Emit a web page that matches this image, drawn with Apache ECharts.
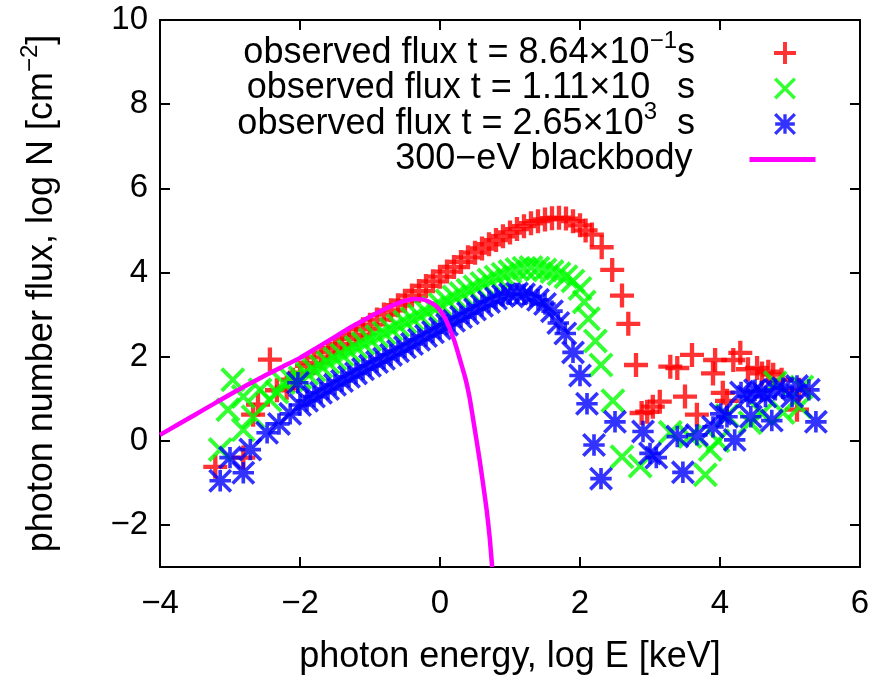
<!DOCTYPE html>
<html><head><meta charset="utf-8">
<script src="https://cdn.jsdelivr.net/npm/echarts@6/dist/echarts.min.js"></script>
<style>html,body{margin:0;padding:0;background:#fff}#c{width:878px;height:686px}</style>
</head><body><div id="c"></div>
<script>
// ---- tick values ----
const xTicks = [-4, -2, 0, 2, 4, 6];
const yTicks = [-2, 0, 2, 4, 6, 8, 10];

// ---- observed flux t = 8.64e-1 s (red plus) ----
const redX = [-3.21,-2.81,-2.67,-2.6,-2.43,-2.33,-2.19,-2.1,
  -2.0,-1.9,-1.8,-1.7,-1.6,-1.5,-1.4,-1.3,-1.2,-1.1,-1.0,-0.9,-0.8,-0.7,-0.6,-0.5,-0.4,-0.3,-0.2,-0.1,
  0.0,0.1,0.2,0.3,0.4,0.5,0.6,0.7,0.8,0.9,1.0,1.1,1.2,1.3,1.4,1.5,1.6,1.7,1.8,1.9,2.0,
  2.08,2.17,2.31,2.46,2.6,2.69,2.8,
  2.88,2.96,3.04,3.14,3.29,3.39,3.5,3.6,3.67,3.9,3.93,4.04,4.1,4.19,4.29,4.4,4.53,4.6,4.69,4.76,4.88,5.1,5.13];
const redY = [-0.62,-0.4,0.62,0.86,1.93,1.2,1.26,1.45,
  1.62,1.78,1.85,1.98,2.1,2.2,2.3,2.42,2.52,2.65,2.76,2.88,3.0,3.1,3.22,3.33,3.45,3.56,3.68,3.79,
  3.9,4.02,4.13,4.25,4.36,4.47,4.57,4.67,4.77,4.86,4.95,5.03,5.1,5.17,5.22,5.26,5.29,5.3,5.28,5.22,5.12,
  5.0,4.9,4.6,4.06,3.45,2.78,1.8,
  0.66,0.69,0.81,0.93,1.76,1.73,1.05,2.04,0.62,1.6,1.92,1.14,0.95,1.92,2.09,1.7,1.73,1.6,1.64,1.57,1.45,0.74,1.21];

// ---- observed flux t = 1.11e1 s (green x) ----
const greenX = [-3.14,-3.03,-2.96,-2.81,-2.81,-2.67,-2.57,-2.43,-2.33,-2.24,-2.12,
  -2.0,-1.9,-1.8,-1.7,-1.6,-1.5,-1.4,-1.3,-1.2,-1.1,-1.0,-0.9,-0.8,-0.7,-0.6,-0.5,-0.4,-0.3,-0.2,-0.1,
  0.0,0.1,0.2,0.3,0.4,0.5,0.6,0.7,0.8,0.9,1.0,1.1,1.2,1.3,1.4,1.5,1.6,1.7,1.8,1.9,
  2.0,2.06,2.12,2.22,2.3,2.47,2.6,2.86,
  3.29,3.57,3.79,3.86,3.97,4.1,4.43,4.6,4.79,4.9,5.14,5.17];
const greenY = [-0.21,0.74,1.45,1.05,0.26,0.57,1.21,0.97,1.16,1.38,1.45,
  1.5,1.6,1.68,1.77,1.86,1.95,2.04,2.13,2.22,2.31,2.4,2.48,2.56,2.65,2.74,2.82,2.9,2.98,3.07,3.16,
  3.24,3.33,3.42,3.5,3.58,3.66,3.74,3.82,3.89,3.96,4.02,4.07,4.1,4.12,4.1,4.06,4.02,3.97,3.9,3.8,
  3.62,3.3,2.9,2.37,1.8,0.95,-0.38,-0.6,
  0.2,0.1,-0.81,-0.21,0.0,0.6,0.43,0.65,1.38,0.67,0.81,1.28];

// ---- observed flux t = 2.65e3 s (blue asterisk) ----
const blueX = [-3.14,-3.0,-2.81,-2.71,-2.47,-2.3,-2.14,-2.03,
  -2.0,-1.9,-1.8,-1.7,-1.6,-1.5,-1.4,-1.3,-1.2,-1.1,-1.0,-0.9,-0.8,-0.7,-0.6,-0.5,-0.4,-0.3,-0.2,-0.1,
  0.0,0.1,0.2,0.3,0.4,0.5,0.6,0.7,0.8,0.9,1.0,1.1,1.2,1.3,1.4,1.5,
  1.6,1.69,1.79,1.9,2.0,2.1,2.2,2.3,
  2.5,2.9,3.0,3.09,3.39,3.47,3.67,3.9,4.01,4.1,4.21,4.3,4.4,4.44,4.5,4.59,4.65,4.74,4.79,4.9,5.03,5.1,5.27,5.37];
const blueY = [-0.95,-0.4,-0.76,-0.21,0.19,0.4,0.64,1.38,
  0.85,0.95,1.05,1.14,1.23,1.33,1.42,1.52,1.6,1.7,1.78,1.87,1.95,2.04,2.13,2.22,2.3,2.4,2.49,2.58,
  2.67,2.76,2.85,2.94,3.03,3.12,3.21,3.3,3.38,3.44,3.48,3.5,3.48,3.43,3.35,3.25,
  3.08,2.8,2.55,2.1,1.55,0.88,-0.1,-0.9,
  0.45,0.22,-0.3,-0.4,0.1,-0.75,0.14,0.33,0.64,0.57,0.02,1.15,1.05,0.57,1.2,1.17,1.05,0.48,1.21,1.25,1.05,1.3,1.21,0.45];

// ---- 300-eV blackbody (magenta line) ----
const bbX = [-4.0,-3.75,-3.5,-3.25,-3.0,-2.75,-2.5,-2.25,-2.0,-1.75,-1.5,-1.25,-1.0,-0.8,-0.6,-0.45,-0.36,-0.25,-0.15,-0.07,
  0.0,0.07,0.14,0.21,0.28,0.36,0.42,0.47,0.52,0.57,0.62,0.67,0.71,0.745];
const bbY = [0.14,0.38,0.62,0.86,1.1,1.33,1.55,1.76,1.97,2.22,2.47,2.72,2.95,3.12,3.27,3.35,3.37,3.36,3.3,3.22,
  3.1,2.92,2.66,2.35,1.96,1.5,1.05,0.55,0.03,-0.5,-1.08,-1.69,-2.3,-3.0];

const legendTexts = {
  obs1: 'observed flux t = 8.64×10{sup|−1}s',
  obs2: 'observed flux t = 1.11×10{sup|    }s',
  obs3: 'observed flux t = 2.65×10{sup|3}  s',
  bb: '300−eV blackbody'
};

const zip = (xs, ys) => xs.map((x, i) => [x, ys[i]]);
const PLUS = 'path://M8.2,0H11.8V8.2H20V11.8H11.8V20H8.2V11.8H0V8.2H8.2Z';
const CROSS = 'path://M1.27,-1.27L21.27,18.73L18.73,21.27L-1.27,1.27Z M21.27,1.27L1.27,21.27L-1.27,18.73L18.73,-1.27Z';
const ASTER = 'path://M8.3,0H11.7V8.3H20V11.7H11.7V20H8.3V11.7H0V8.3H8.3Z M1.2,-1.2L21.2,18.8L18.8,21.2L-1.2,1.2Z M21.2,1.2L1.2,21.2L-1.2,18.8L18.8,-1.2Z';

const FONT = '"Liberation Sans", Arial, Helvetica, sans-serif';
const FS_TICK = 33;
const FS_TEXT = 36;
const SUP = { fontFamily: FONT, fontSize: 24, color: '#000', lineHeight: 24, verticalAlign: 'top' };
const fmtNum = v => (v < 0 ? '−' + Math.abs(v) : String(v));

const axisCommon = {
  type: 'value',
  axisLine: { show: true, onZero: false, lineStyle: { color: '#000', width: 2 } },
  axisTick: { show: true, inside: true, length: 10, lineStyle: { color: '#000', width: 2 } },
  splitLine: { show: false }
};

function legendFor(name, icon, rowY, iconW, iconH, rightPx, padR) {
  const item = { name: name };
  if (icon) item.icon = icon;
  return {
    data: [item],
    orient: 'horizontal', align: 'right', padding: 0,
    right: rightPx, top: rowY - 24,
    itemWidth: iconW, itemHeight: iconH,
    selectedMode: false,
    formatter: n => legendTexts[n],
    lineStyle: { width: 5 },
    textStyle: {
      fontFamily: FONT, fontSize: FS_TEXT, color: '#000', lineHeight: 48,
      padding: [0, padR, 0, 0],
      rich: { sup: SUP }
    }
  };
}

const chart = echarts.init(document.getElementById('c'), null, { renderer: 'canvas' });
chart.setOption({
  animation: false,
  backgroundColor: '#fff',
  grid: { left: 160, right: 18, top: 20, bottom: 119, containLabel: false },
  xAxis: [
    Object.assign({}, axisCommon, {
      position: 'bottom', min: -4, max: 6, interval: 2,
      axisLabel: { fontFamily: FONT, fontSize: FS_TICK, color: '#000', margin: 20, formatter: fmtNum },
      name: 'photon energy, log E [keV]', nameLocation: 'middle', nameGap: 72,
      nameTextStyle: { fontFamily: FONT, fontSize: FS_TEXT, color: '#000' }
    }),
    Object.assign({}, axisCommon, {
      position: 'top', min: -4, max: 6, interval: 2, axisLabel: { show: false }
    })
  ],
  yAxis: [
    Object.assign({}, axisCommon, {
      position: 'left', min: -3, max: 10,
      axisTick: Object.assign({}, axisCommon.axisTick, { customValues: yTicks }),
      axisLabel: { customValues: yTicks, fontFamily: FONT, fontSize: FS_TICK, color: '#000', margin: 12, formatter: fmtNum },
      name: 'photon number flux, log N [cm{sup|−2}]', nameLocation: 'middle', nameGap: 94,
      nameTextStyle: { fontFamily: FONT, fontSize: FS_TEXT, color: '#000', lineHeight: 48, rich: { sup: SUP } }
    }),
    Object.assign({}, axisCommon, {
      position: 'right', min: -3, max: 10,
      axisTick: Object.assign({}, axisCommon.axisTick, { customValues: yTicks }),
      axisLabel: { show: false }
    })
  ],
  legend: [
    legendFor('obs1', PLUS, 53, 22, 22, 82, 74),
    legendFor('obs2', CROSS, 88.5, 22, 22, 82, 74),
    legendFor('obs3', ASTER, 124, 22, 22, 82, 74),
    legendFor('bb', null, 159.5, 66, 5, 60, 52)
  ],
  series: [
    { name: 'obs1', type: 'scatter', data: zip(redX, redY), symbol: PLUS, symbolSize: 24, symbolKeepAspect: true,
      itemStyle: { color: '#ff0000' } },
    { name: 'obs2', type: 'scatter', data: zip(greenX, greenY), symbol: CROSS, symbolSize: 25, symbolKeepAspect: true,
      itemStyle: { color: '#00ff00' } },
    { name: 'obs3', type: 'scatter', data: zip(blueX, blueY), symbol: ASTER, symbolSize: 24, symbolKeepAspect: true,
      itemStyle: { color: '#0000ff' } },
    { name: 'bb', type: 'line', data: zip(bbX, bbY), symbol: 'none', showSymbol: false, smooth: 0.2,
      lineStyle: { color: '#ff00ff', width: 4.5 }, itemStyle: { color: '#ff00ff' } }
  ]
});
</script>
</body></html>
